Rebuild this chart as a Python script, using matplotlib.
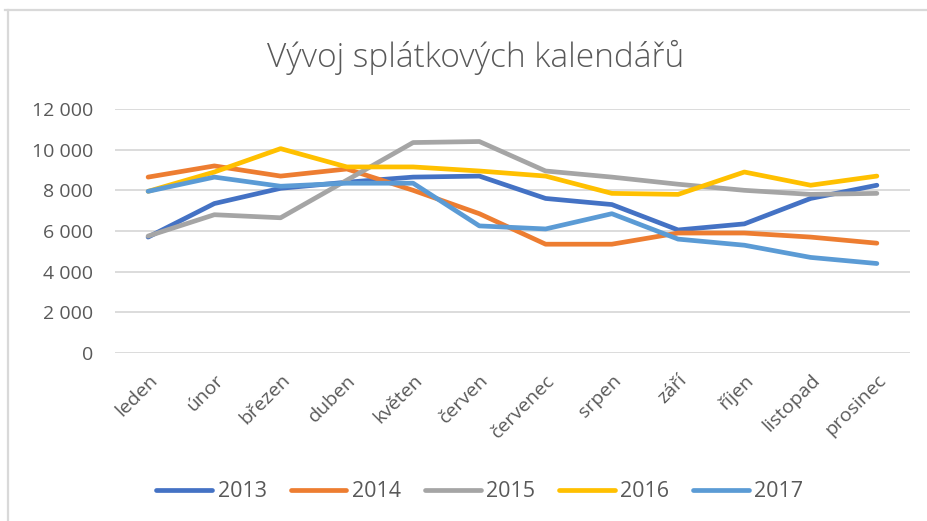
import matplotlib
matplotlib.use("Agg")
import matplotlib.pyplot as plt
from matplotlib.lines import Line2D
from matplotlib.ticker import FuncFormatter

months = ["leden", "únor", "březen", "duben", "květen", "červen",
          "červenec", "srpen", "září", "říjen", "listopad", "prosinec"]
years = ["2013", "2014", "2015", "2016", "2017"]
s2013 = [5700, 7350, 8100, 8400, 8650, 8700, 7600, 7300, 6050, 6350, 7600, 8250]
s2014 = [8650, 9200, 8700, 9050, 8000, 6850, 5350, 5350, 5900, 5900, 5700, 5400]
s2015 = [5750, 6800, 6650, 8500, 10350, 10400, 8950, 8650, 8300, 8000, 7800, 7850]
s2016 = [7950, 8900, 10050, 9150, 9150, 8950, 8700, 7850, 7800, 8900, 8250, 8700]
s2017 = [7950, 8650, 8200, 8350, 8350, 6250, 6100, 6850, 5600, 5300, 4700, 4400]
series = [s2013, s2014, s2015, s2016, s2017]
colors = ["#4472C4", "#ED7D31", "#A5A5A5", "#FFC000", "#5B9BD5"]
yticks = [0, 2000, 4000, 6000, 8000, 10000, 12000]

plt.rcParams['font.family'] = ['Open Sans', 'DejaVu Sans']
txt = "#595959"

fig = plt.figure(figsize=(9.28, 5.21), dpi=100)
ax = fig.add_axes([0.1239, 0.3225, 0.8567, 0.4683])

x = list(range(len(months)))
for name, vals, c in zip(years, series, colors):
    ax.plot(x, vals, color=c, lw=3.4, label=name, solid_capstyle='round',
            solid_joinstyle='round')

ax.set_xlim(-0.5, len(months) - 0.5)
ax.set_ylim(0, 12000)
ax.set_yticks(yticks)
ax.yaxis.set_major_formatter(FuncFormatter(lambda v, p: f"{int(v):,}".replace(",", " ")))
ax.set_xticks(x)
ax.set_xticklabels(months, rotation=45, ha='right', va='top', rotation_mode='anchor')
ax.grid(axis='y', color='#D9D9D9', lw=1.3)
ax.set_axisbelow(True)
for sp in ax.spines.values():
    sp.set_visible(False)
ax.tick_params(axis='both', length=0, colors=txt, labelsize=14)
ax.tick_params(axis='y', pad=16)
ax.tick_params(axis='x', pad=13)

fig.text(0.513, 0.89, "Vývoj splátkových kalendářů", ha='center', va='center',
         fontsize=24, color=txt, fontweight='light')

leg = fig.legend(loc='center', bbox_to_anchor=(0.517, 0.056), ncol=5, frameon=False,
                 fontsize=15.5, handlelength=2.6, handletextpad=0.25, columnspacing=1.1)
for t in leg.get_texts():
    t.set_color(txt)

fig.add_artist(Line2D([5/928, 1], [1 - 10/521, 1 - 10/521], transform=fig.transFigure,
                      color='#D9D9D9', lw=1.6))
fig.add_artist(Line2D([8/928, 8/928], [0, 1 - 10/521], transform=fig.transFigure,
                      color='#D9D9D9', lw=1.6))

fig.savefig("out.png", dpi=100)
